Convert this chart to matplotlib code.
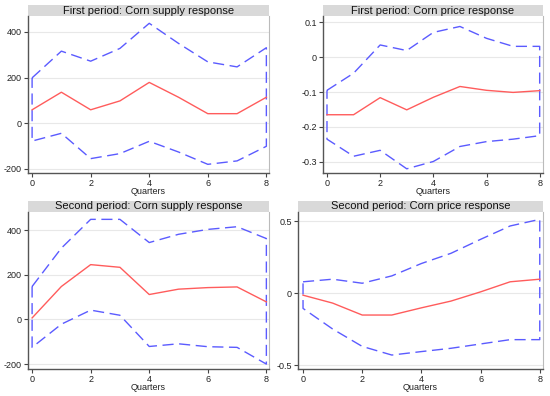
import matplotlib
matplotlib.use("Agg")
import matplotlib.pyplot as plt
from matplotlib.patches import Rectangle

plt.rcParams['font.family'] = ['Liberation Sans', 'DejaVu Sans']

# ---- data ----
QUARTERS = [0, 1, 2, 3, 4, 5, 6, 7, 8]

P1_SUPPLY_IRF = [59, 136, 59, 98, 179, 114, 42, 42, 114]
P1_SUPPLY_UPPER = [199, 316, 272, 328, 438, 350, 269, 247, 331]
P1_SUPPLY_LOWER = [-78, -44, -155, -133, -79, -126, -180, -165, -101]

P1_PRICE_IRF = [-0.165, -0.165, -0.116, -0.151, -0.115, -0.084, -0.095, -0.101, -0.096]
P1_PRICE_UPPER = [-0.095, -0.046, 0.035, 0.019, 0.071, 0.088, 0.054, 0.031, 0.031]
P1_PRICE_LOWER = [-0.235, -0.284, -0.267, -0.320, -0.299, -0.256, -0.242, -0.235, -0.225]

P2_SUPPLY_IRF = [7, 148, 246, 234, 112, 136, 143, 146, 79]
P2_SUPPLY_UPPER = [148, 320, 449, 449, 345, 382, 404, 416, 363]
P2_SUPPLY_LOWER = [-125, -21, 42, 19, -121, -109, -122, -125, -200]

P2_PRICE_IRF = [-0.014, -0.069, -0.152, -0.152, -0.102, -0.055, 0.009, 0.079, 0.097]
P2_PRICE_UPPER = [0.079, 0.097, 0.069, 0.120, 0.206, 0.277, 0.374, 0.467, 0.513]
P2_PRICE_LOWER = [-0.106, -0.249, -0.370, -0.430, -0.406, -0.383, -0.353, -0.323, -0.323]

PANELS = [
    ('First period: Corn supply response', P1_SUPPLY_IRF, P1_SUPPLY_UPPER, P1_SUPPLY_LOWER,
     [-200, 0, 200, 400], ['-200', '0', '200', '400'], (-218, 470), (-0.14, 8.09)),
    ('First period: Corn price response', P1_PRICE_IRF, P1_PRICE_UPPER, P1_PRICE_LOWER,
     [-0.3, -0.2, -0.1, 0, 0.1], ['-0.3', '-0.2', '-0.1', '0', '0.1'], (-0.332, 0.118), (-0.15, 8.125)),
    ('Second period: Corn supply response', P2_SUPPLY_IRF, P2_SUPPLY_UPPER, P2_SUPPLY_LOWER,
     [-200, 0, 200, 400], ['-200', '0', '200', '400'], (-222, 482), (-0.14, 8.09)),
    ('Second period: Corn price response', P2_PRICE_IRF, P2_PRICE_UPPER, P2_PRICE_LOWER,
     [-0.5, 0, 0.5], ['-0.5', '0', '0.5'], (-0.527, 0.564), (-0.17, 8.11)),
]

# axes boxes in pixels: left, right, top, bottom
BOXES = [(28, 269, 16, 173), (323, 543, 16, 173), (28, 269, 212, 369), (298, 543, 212, 369)]

W, H = 550, 396
fig = plt.figure(figsize=(W / 100, H / 100), dpi=100)
fig.patch.set_facecolor('white')

for (title, irf, upper, lower, yt, ytl, ylim, xlim), (l, r, t, b) in zip(PANELS, BOXES):
    ax = fig.add_axes([l / W, 1 - b / H, (r - l) / W, (b - t) / H])
    ax.set_xlim(*xlim)
    ax.set_ylim(*ylim)

    # confidence band drawn as a closed outline
    band_x = QUARTERS + QUARTERS[::-1] + [QUARTERS[0]]
    band_y = upper + lower[::-1] + [upper[0]]
    ax.plot(band_x, band_y, color='#5b5bff', linestyle=(0, (8, 4)), linewidth=1.0)
    ax.plot(QUARTERS, irf, color='#ff5c5c', linewidth=1.0)

    ax.set_yticks(yt)
    ax.set_yticklabels(ytl)
    ax.set_xticks([0, 2, 4, 6, 8])
    ax.grid(axis='y', color='#e8e8e8', linewidth=0.8)
    ax.set_axisbelow(True)
    ax.tick_params(labelsize=6.5, length=3, width=0.8, color='#444444', pad=1.5, labelcolor='#222222')
    ax.set_xlabel('Quarters', fontsize=6.5, labelpad=-1, color='#222222')

    for side in ['left', 'bottom']:
        ax.spines[side].set_color('#555555')
        ax.spines[side].set_linewidth(1.0)
    ax.spines['right'].set_color('#bbbbbb')
    ax.spines['top'].set_visible(False)

    # gray title bar above the plot
    bar_h = 11 / (b - t)
    ax.add_patch(Rectangle((0, 1), 1, bar_h, transform=ax.transAxes, clip_on=False,
                           facecolor='#d9d9d9', edgecolor='none'))
    ax.text(0.5, 1 + bar_h / 2, title, transform=ax.transAxes, ha='center', va='center',
            fontsize=8, color='#111111')

fig.savefig('out.png', dpi=100, facecolor='white')
